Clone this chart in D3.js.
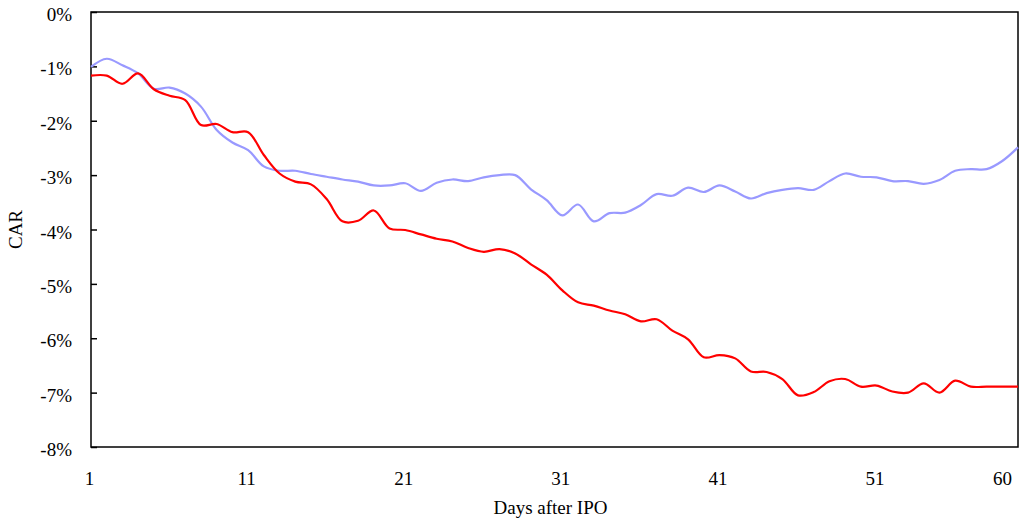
<!DOCTYPE html>
<html>
<head>
<meta charset="utf-8">
<script src="https://cdn.jsdelivr.net/npm/d3@7"></script>
<style>
  body { margin: 0; background: #fff; }
  text { font-family: "Liberation Serif", "DejaVu Serif", serif; fill: #000; }
</style>
</head>
<body>
<script>
// days after IPO
var days = d3.range(1, 61);

// cumulative abnormal return (%), red line
var carRed = [-1.17, -1.17, -1.32, -1.13, -1.42, -1.54, -1.62, -2.08, -2.06, -2.21,
              -2.21, -2.63, -2.97, -3.12, -3.17, -3.44, -3.85, -3.84, -3.65, -3.98,
              -4.01, -4.09, -4.17, -4.22, -4.34, -4.41, -4.36, -4.44, -4.64, -4.83,
              -5.12, -5.34, -5.40, -5.49, -5.56, -5.69, -5.65, -5.86, -6.02, -6.35,
              -6.31, -6.37, -6.61, -6.62, -6.75, -7.05, -6.99, -6.79, -6.75, -6.89,
              -6.87, -6.98, -7.00, -6.83, -7.00, -6.78, -6.89, -6.89, -6.89, -6.89];

// cumulative abnormal return (%), blue line
var carBlue = [-1.01, -0.86, -0.98, -1.13, -1.41, -1.39, -1.50, -1.74, -2.17, -2.40,
               -2.54, -2.84, -2.92, -2.92, -2.98, -3.03, -3.08, -3.12, -3.19, -3.19,
               -3.15, -3.29, -3.14, -3.08, -3.11, -3.04, -3.00, -3.00, -3.26, -3.46,
               -3.74, -3.54, -3.85, -3.70, -3.69, -3.55, -3.35, -3.38, -3.23, -3.31,
               -3.19, -3.30, -3.43, -3.33, -3.27, -3.24, -3.27, -3.11, -2.97, -3.03,
               -3.04, -3.11, -3.11, -3.16, -3.09, -2.92, -2.89, -2.89, -2.74, -2.49];

var xTicks = [1, 11, 21, 31, 41, 51, 60];
var yTicks = [0, -1, -2, -3, -4, -5, -6, -7, -8];

var w = 1021, h = 522;
var padLeft = 91, padRight = 1018, padTop = 12, padBottom = 447;

var svg = d3.select("body").append("svg")
    .attr("width", w)
    .attr("height", h);

var xScale = d3.scaleLinear()
    .domain([1, 60])
    .range([padLeft, padRight]);

var yScale = d3.scaleLinear()
    .domain([-8, 0])
    .range([padBottom, padTop]);

// plot frame
svg.append("rect")
    .attr("x", padLeft)
    .attr("y", padTop)
    .attr("width", padRight - padLeft)
    .attr("height", padBottom - padTop)
    .attr("fill", "none")
    .attr("stroke", "#000")
    .attr("stroke-width", 1.5);

// y axis: inward ticks, labels on the left
var yAxis = d3.axisRight(yScale)
    .tickValues(yTicks)
    .tickSize(6)
    .tickFormat(function(d) { return d + "%"; });

var gy = svg.append("g")
    .attr("transform", "translate(" + padLeft + ",0)")
    .call(yAxis);
gy.select(".domain").remove();
gy.selectAll("line").attr("stroke", "#000").attr("stroke-width", 1.5);
gy.selectAll("text")
    .attr("x", -19)
    .attr("dy", null)
    .attr("y", 8.5)
    .attr("text-anchor", "end")
    .attr("fill", "#000")
    .style("font-size", "19px")
    .style("font-family", "'Liberation Serif', serif");

// x axis: labels only
var xAxis = d3.axisBottom(xScale)
    .tickValues(xTicks)
    .tickSize(0)
    .tickFormat(d3.format("d"));

var gx = svg.append("g")
    .attr("transform", "translate(0," + padBottom + ")")
    .call(xAxis);
gx.select(".domain").remove();
gx.selectAll("text")
    .attr("y", 38)
    .attr("dy", null)
    .attr("dx", function(d) { return d === 60 ? -16 : -2; })
    .attr("fill", "#000")
    .style("font-size", "19px")
    .style("font-family", "'Liberation Serif', serif");

// lines
var line = d3.line()
    .x(function(d) { return xScale(d[0]); })
    .y(function(d) { return yScale(d[1]); })
    .curve(d3.curveCatmullRom);

svg.append("path")
    .datum(d3.zip(days, carBlue))
    .attr("fill", "none")
    .attr("stroke", "#9999ff")
    .attr("stroke-width", 2.2)
    .attr("d", line);

svg.append("path")
    .datum(d3.zip(days, carRed))
    .attr("fill", "none")
    .attr("stroke", "#ff0000")
    .attr("stroke-width", 2.2)
    .attr("d", line);

// axis titles
svg.append("text")
    .attr("x", (padLeft + padRight) / 2 - 4)
    .attr("y", 514)
    .attr("text-anchor", "middle")
    .style("font-size", "19px")
    .text("Days after IPO");

svg.append("text")
    .attr("transform", "rotate(-90)")
    .attr("x", -(padTop + padBottom) / 2)
    .attr("y", 22)
    .attr("text-anchor", "middle")
    .style("font-size", "19px")
    .text("CAR");
</script>
</body>
</html>
